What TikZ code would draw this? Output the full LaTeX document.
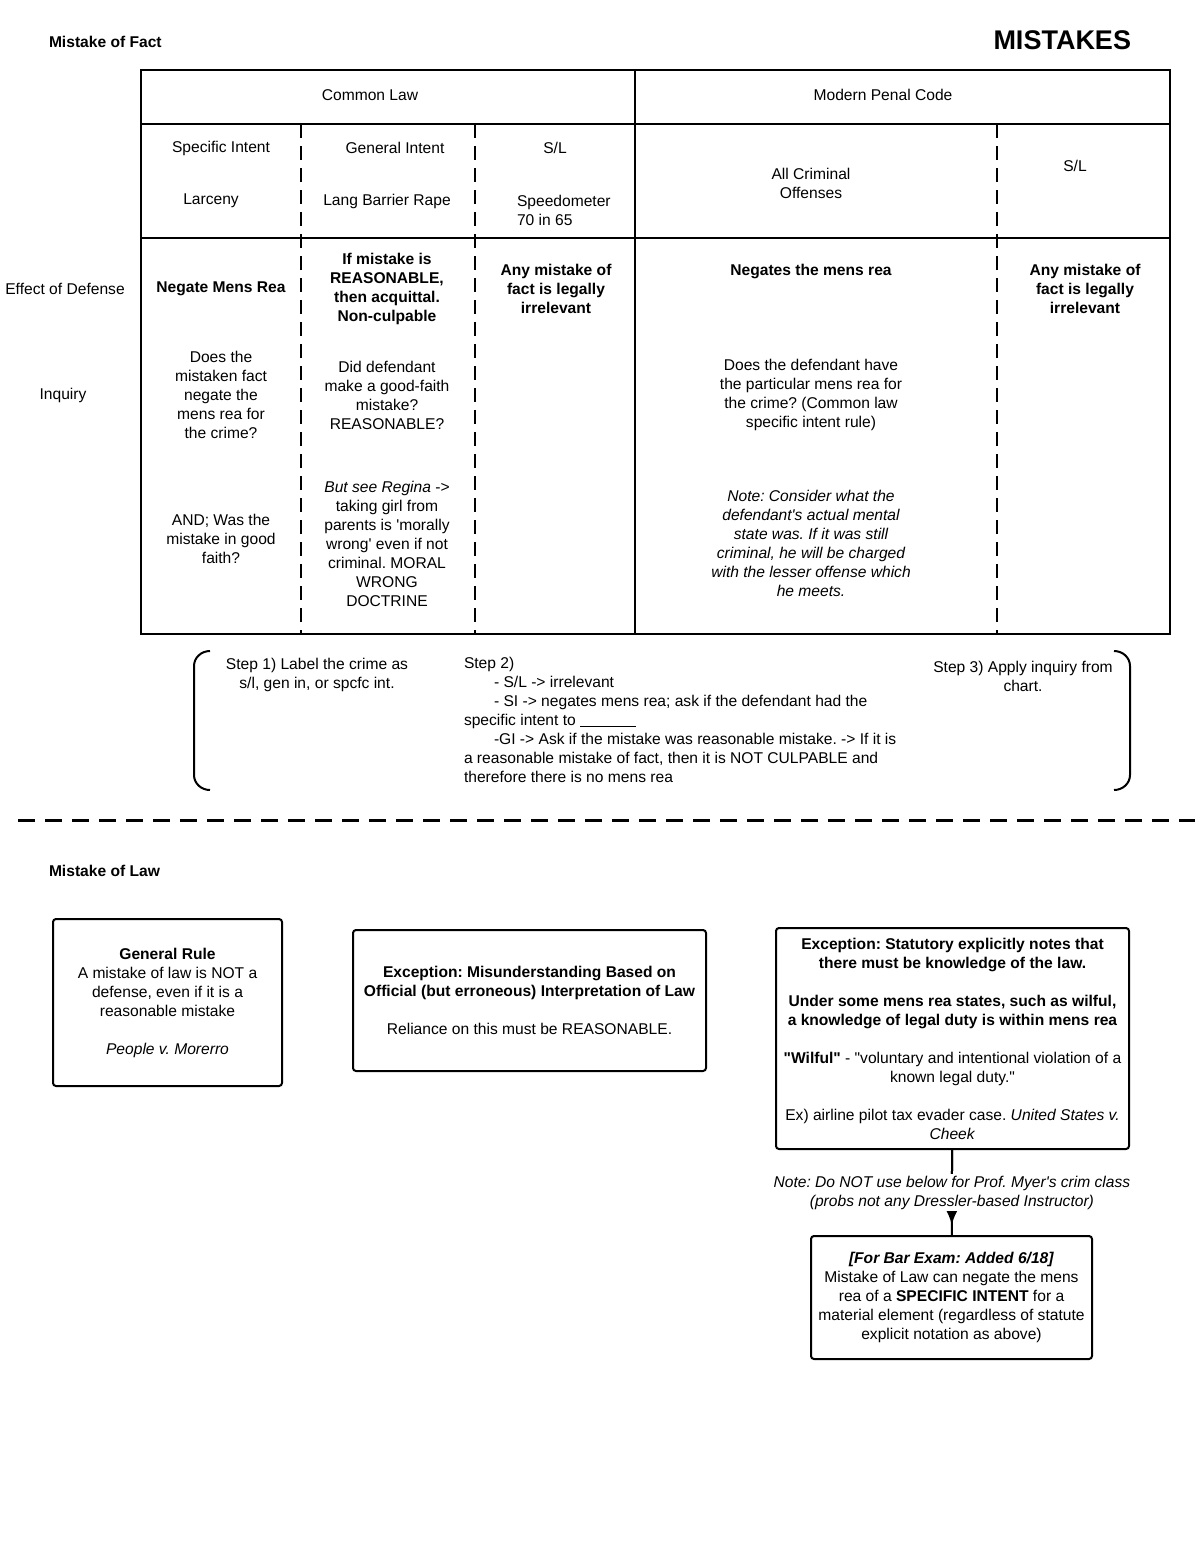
\documentclass[tikz,border=0pt]{standalone}
\usepackage{fontspec}
\setmainfont{Liberation Sans}
\usetikzlibrary{arrows.meta}
\frenchspacing

\tikzset{
  txt/.style={align=center, inner sep=0pt, font=\fontsize{7.8}{9.5}\selectfont},
  box/.style={draw, line width=1pt, rounded corners=1.5pt, align=center, inner sep=0pt, font=\fontsize{7.8}{9.5}\selectfont},
  dashcol/.style={line width=1pt, dash pattern=on 7pt off 4pt},
}

\begin{document}
\begin{tikzpicture}[x=0.5pt, y=-0.5pt, line width=1pt]
    \useasboundingbox (0,0) rectangle (1200,1553);

    % titles
    \node[txt, anchor=west, font=\fontsize{7.8}{9.5}\selectfont\bfseries] (fact) at (48, 42) {Mistake of Fact};
    \node[txt, anchor=east, font=\fontsize{13.5}{16}\selectfont\bfseries] (title) at (1132, 40) {MISTAKES};

    % chart
    \draw (141,70) rectangle (1170,634);
    \draw (141,124) -- (1170,124);
    \draw (141,238) -- (1170,238);
    \draw (635,70) -- (635,634);
    \draw[dashcol] (301,124) -- (301,634);
    \draw[dashcol] (475,124) -- (475,634);
    \draw[dashcol] (997,124) -- (997,634);

    \node[txt] (cl) at (370, 95) {Common Law};
    \node[txt] (mpc) at (883, 95) {Modern Penal Code};

    \node[txt] (si) at (221, 148) {Specific Intent};
    \node[txt] (gi) at (395, 148) {General Intent};
    \node[txt] (sl) at (555, 148) {S/L};
    \node[txt] (sl2) at (1075, 166) {S/L};
    \node[txt] (larc) at (211, 201) {Larceny};
    \node[txt] (rape) at (387, 201) {Lang Barrier Rape};
    \node[txt, align=left, anchor=west] (speed) at (516, 210) {Speedometer\\70 in 65};
    \node[txt] (all) at (811, 183) {All Criminal\\Offenses};

    \node[txt] (effect) at (65, 289) {Effect of Defense};
    \node[txt] (inq) at (63, 395) {Inquiry};

    \node[txt, font=\fontsize{7.8}{9.5}\selectfont\bfseries] (e1) at (221, 289) {Negate Mens Rea};
    \node[txt, font=\fontsize{7.8}{9.5}\selectfont\bfseries] (e2) at (387, 289) {If mistake is\\REASONABLE,\\then acquittal.\\Non-culpable};
    \node[txt, font=\fontsize{7.8}{9.5}\selectfont\bfseries] (e3) at (556, 289) {Any mistake of\\fact is legally\\irrelevant};
    \node[txt, font=\fontsize{7.8}{9.5}\selectfont\bfseries] (e4) at (811, 271) {Negates the mens rea};
    \node[txt, font=\fontsize{7.8}{9.5}\selectfont\bfseries] (e5) at (1085, 289) {Any mistake of\\fact is legally\\irrelevant};

    \node[txt] (q1) at (221, 395) {Does the\\mistaken fact\\negate the\\mens rea for\\the crime?};
    \node[txt] (q2) at (387, 395) {Did defendant\\make a good-faith\\mistake?\\REASONABLE?};
    \node[txt] (q4) at (811, 395) {Does the defendant have\\the particular mens rea for\\the crime? (Common law\\specific intent rule)};
    \node[txt] (q1b) at (221, 539) {AND; Was the\\mistake in good\\faith?};
    \node[txt] (q2b) at (387, 544) {\textit{But see Regina} ->\\taking girl from\\parents is \textquotesingle morally\\wrong\textquotesingle{} even if not\\criminal. MORAL\\WRONG\\DOCTRINE};
    \node[txt, font=\fontsize{7.8}{9.5}\selectfont\itshape] (q4b) at (811, 543) {Note: Consider what the\\defendant\textquotesingle s actual mental\\state was. If it was still\\criminal, he will be charged\\with the lesser offense which\\he meets.};

    % steps
    \draw (210,651) to[out=180, in=90] (194,666) -- (194,775) to[out=-90, in=180] (210,790);
    \draw (1114,651) to[out=0, in=90] (1130,666) -- (1130,775) to[out=-90, in=0] (1114,790);
    \node[txt] (step1) at (317, 675) {Step 1) Label the crime as\\s/l, gen in, or spcfc int.};
    \node[txt, align=left, anchor=north west] (step2) at (463, 656) {Step 2)\\
        \hspace*{15pt}- S/L -> irrelevant\\
        \hspace*{15pt}- SI -> negates mens rea; ask if the defendant had the\\
        specific intent to \rule[-1pt]{28pt}{0.5pt}\\
        \hspace*{15pt}-GI -> Ask if the mistake was reasonable mistake. -> If it is\\
        a reasonable mistake of fact, then it is NOT CULPABLE and\\
        therefore there is no mens rea};
    \node[txt] (step3) at (1023, 676) {Step 3) Apply inquiry from\\chart.};

    \draw[line width=1.5pt, dash pattern=on 8.5pt off 5pt] (18,820) -- (1195,820);

    % mistake of law
    \node[txt, anchor=west, font=\fontsize{7.8}{9.5}\selectfont\bfseries] (law) at (48, 871) {Mistake of Law};

    \node[box, minimum width=114.5pt, minimum height=83.5pt] (rule) at (167.5, 1002.5) {\textbf{General Rule}\\A mistake of law is NOT a\\defense, even if it is a\\reasonable mistake\\[9.5pt]\textit{People v. Morerro}};
    \node[box, minimum width=176.5pt, minimum height=70.5pt] (exc1) at (529.5, 1000.5) {\textbf{Exception: Misunderstanding Based on}\\\textbf{Official (but erroneous) Interpretation of Law}\\[9.5pt]Reliance on this must be REASONABLE.};
    \node[box, minimum width=176.5pt, minimum height=110.5pt] (exc2) at (952.5, 1038.5) {\textbf{Exception: Statutory explicitly notes that}\\\textbf{there must be knowledge of the law.}\\[9.5pt]\textbf{Under some mens rea states, such as wilful,}\\\textbf{a knowledge of legal duty is within mens rea}\\[9.5pt]\textbf{\textquotedbl Wilful\textquotedbl} - \textquotedbl voluntary and intentional violation of a\\known legal duty.\textquotedbl\\[9.5pt]Ex) airline pilot tax evader case. \textit{United States v.}\\\textit{Cheek}};
    \node[box, minimum width=140.5pt, minimum height=61.5pt] (bar) at (951.5, 1297.5) {\textbf{\textit{[For Bar Exam: Added 6/18]}}\\Mistake of Law can negate the mens\\rea of a \textbf{SPECIFIC INTENT} for a\\material element (regardless of statute\\explicit notation as above)};

    \draw (exc2) -- (bar);
    \draw[-{Latex[length=7pt, width=5.5pt]}, shorten >=5pt] (exc2) -- node[txt, fill=white, inner sep=1pt, font=\fontsize{7.8}{9.5}\selectfont\itshape] (note) {Note: Do NOT use below for Prof. Myer\textquotesingle s crim class\\(probs not any Dressler-based Instructor)} (bar);
\end{tikzpicture}
\end{document}
